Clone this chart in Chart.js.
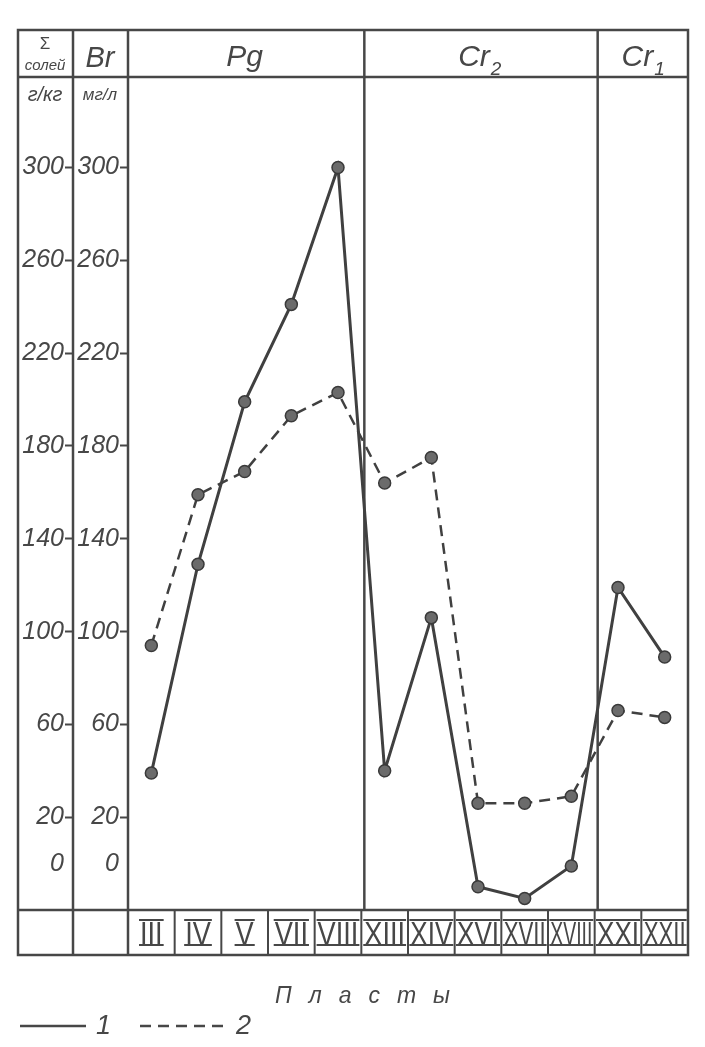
<!DOCTYPE html>
<html>
<head>
<meta charset="utf-8">
<script src="https://cdn.jsdelivr.net/npm/chart.js@4.4.1/dist/chart.umd.min.js"></script>
<style>
    html, body { margin: 0; padding: 0; background: #fff; }
    #wrap { width: 705px; height: 1047px; }
</style>
</head>
<body>
<div id="wrap"><canvas id="myChart" width="705" height="1047"></canvas></div>
<script>
// Пласты (категории по оси X)
const plasty = ['III', 'IV', 'V', 'VII', 'VIII', 'XIII', 'XIV', 'XVI', 'XVII', 'XVIII', 'XXI', 'XXII'];
// Кривая 1 (сплошная) и кривая 2 (пунктир)
const line1 = [39, 129, 199, 241, 300, 40, 106, -10, -15, -1, 119, 89];
const line2 = [94, 159, 169, 193, 203, 164, 175, 26, 26, 29, 66, 63];
// Подписи шкал
const yTicks = [0, 20, 60, 100, 140, 180, 220, 260, 300];
// Свиты: индекс первого и последнего пласта
const groupNames = ['Pg', 'Cr', 'Cr'];
const groupSubs = ['', '2', '1'];
const groupStart = [0, 5, 10];
const groupEnd = [4, 9, 11];

const INK = '#474747';
const FONT = "'Liberation Sans', 'DejaVu Sans', sans-serif";

const frame = {
    left: 18, right: 688, top: 30, header: 77, plotBottom: 910, bottom: 955,
    col1: 73, col2: 128
};

function hline(ctx, x1, x2, y) {
    ctx.beginPath(); ctx.moveTo(x1, y); ctx.lineTo(x2, y); ctx.stroke();
}
function vline(ctx, x, y1, y2) {
    ctx.beginPath(); ctx.moveTo(x, y1); ctx.lineTo(x, y2); ctx.stroke();
}
function text(ctx, str, x, y, size, align, italic) {
    ctx.font = (italic ? 'italic ' : '') + size + 'px ' + FONT;
    ctx.textAlign = align;
    ctx.textBaseline = 'alphabetic';
    ctx.fillText(str, x, y);
}

const tablePlugin = {
    id: 'table',
    beforeDraw(chart) {
        const ctx = chart.ctx;
        ctx.save();
        ctx.fillStyle = '#fff';
        ctx.fillRect(0, 0, chart.width, chart.height);
        ctx.restore();
    },
    beforeDatasetsDraw(chart) {
        const ctx = chart.ctx;
        const xs = chart.scales.x;
        const f = frame;
        ctx.save();
        ctx.strokeStyle = INK;
        ctx.lineWidth = 2.5;
        // рамка
        ctx.strokeRect(f.left, f.top, f.right - f.left, f.bottom - f.top);
        hline(ctx, f.left, f.right, f.header);
        hline(ctx, f.left, f.right, f.plotBottom);
        vline(ctx, f.col1, f.top, f.bottom);
        vline(ctx, f.col2, f.top, f.bottom);
        // границы свит
        for (let g = 1; g < groupStart.length; g++) {
            const x = (xs.getPixelForTick(groupStart[g] - 1) + xs.getPixelForTick(groupStart[g])) / 2 + 3;
            vline(ctx, x, f.top, f.plotBottom);
        }
        // ячейки пластов
        ctx.lineWidth = 2;
        for (let i = 1; i < plasty.length; i++) {
            const x = (xs.getPixelForTick(i - 1) + xs.getPixelForTick(i)) / 2;
            vline(ctx, x, f.plotBottom, f.bottom);
        }
        ctx.restore();
    },
    afterDraw(chart) {
        const ctx = chart.ctx;
        const xs = chart.scales.x;
        ctx.save();
        ctx.fillStyle = INK;
        ctx.strokeStyle = INK;

        // шапка
        text(ctx, 'Σ', 45, 49, 17, 'center', false);
        text(ctx, 'солей', 45, 70, 15, 'center', true);
        text(ctx, 'Br', 100, 67, 29, 'center', true);
        text(ctx, 'г/кг', 45, 101, 20, 'center', true);
        text(ctx, 'мг/л', 100, 100, 17, 'center', true);

        for (let g = 0; g < groupStart.length; g++) {
            const x = (xs.getPixelForTick(groupStart[g]) + xs.getPixelForTick(groupEnd[g])) / 2;
            ctx.font = 'italic 30px ' + FONT;
            const w = ctx.measureText(groupNames[g]).width;
            const sub = groupSubs[g];
            const shift = sub ? -4 : 0;
            text(ctx, groupNames[g], x + shift, 66, 30, 'center', true);
            if (sub) text(ctx, sub, x + shift + w / 2 + 1, 75, 19, 'left', true);
        }

        // римские номера пластов
        const y0 = 945, capH = 25;
        ctx.lineWidth = 2;
        plasty.forEach((lab, i) => {
            const x = xs.getPixelForTick(i);
            ctx.font = '34px ' + FONT;
            const w = ctx.measureText(lab).width;
            const maxW = 42;
            const sx = Math.min(0.8, maxW / w);
            const ww = w * sx;
            ctx.save();
            ctx.translate(x, y0);
            ctx.scale(sx, 1);
            ctx.textAlign = 'center';
            ctx.textBaseline = 'alphabetic';
            ctx.fillText(lab, 0, 0);
            ctx.restore();
            hline(ctx, x - ww / 2 - 1, x + ww / 2 + 1, y0 - capH);
            hline(ctx, x - ww / 2 - 1, x + ww / 2 + 1, y0);
        });

        // подпись оси
        ctx.save();
        ctx.letterSpacing = '17px';
        text(ctx, 'Пласты', 275, 1003, 23, 'left', true);
        ctx.restore();

        // условные обозначения
        const ds = chart.data.datasets;
        const legendX = [[20, 86, 96], [140, 228, 236]];
        ds.forEach((d, i) => {
            ctx.save();
            ctx.lineWidth = 2.5;
            ctx.setLineDash(d.borderDash || []);
            hline(ctx, legendX[i][0], legendX[i][1], 1026);
            ctx.restore();
            text(ctx, d.label, legendX[i][2], 1034, 27, 'left', true);
        });
        ctx.restore();
    }
};

function yAxis(weight) {
    return {
        type: 'linear',
        position: 'left',
        weight: weight,
        min: -20,
        max: 339,
        afterBuildTicks: s => { s.ticks = yTicks.map(v => ({ value: v })); },
        afterFit: s => { s.width = 55; },
        grid: {
            drawOnChartArea: false,
            drawTicks: true,
            tickLength: 8,
            tickWidth: 2,
            tickColor: c => (c.tick && c.tick.value === 0) ? 'rgba(0,0,0,0)' : INK
        },
        border: { display: false },
        ticks: {
            color: INK,
            padding: 1,
            font: { family: FONT, size: 25, style: 'italic' },
            callback: v => String(v)
        }
    };
}

const ctx1 = document.getElementById('myChart');
new Chart(ctx1, {
    type: 'line',
    data: {
        labels: plasty,
        datasets: [{
            label: '1',
            data: line1,
            yAxisID: 'y',
            borderColor: '#404040',
            borderWidth: 3,
            pointRadius: 6,
            pointBackgroundColor: '#6b6b6b',
            pointBorderColor: '#3a3a3a',
            pointBorderWidth: 1.5,
            tension: 0
        }, {
            label: '2',
            data: line2,
            yAxisID: 'ySalt',
            borderColor: '#404040',
            borderWidth: 2.5,
            borderDash: [11, 7],
            pointRadius: 6,
            pointBackgroundColor: '#6b6b6b',
            pointBorderColor: '#3a3a3a',
            pointBorderWidth: 1.5,
            tension: 0
        }]
    },
    options: {
        responsive: false,
        animation: false,
        layout: { padding: { left: 18, right: 17, top: 77, bottom: 92 } },
        plugins: { legend: { display: false }, tooltip: { enabled: false } },
        scales: {
            x: {
                type: 'category',
                offset: true,
                afterFit: s => { s.height = 45; },
                grid: { display: false },
                border: { display: false },
                ticks: { display: false }
            },
            y: yAxis(0),
            ySalt: yAxis(1)
        }
    },
    plugins: [tablePlugin]
});
</script>
</body>
</html>
